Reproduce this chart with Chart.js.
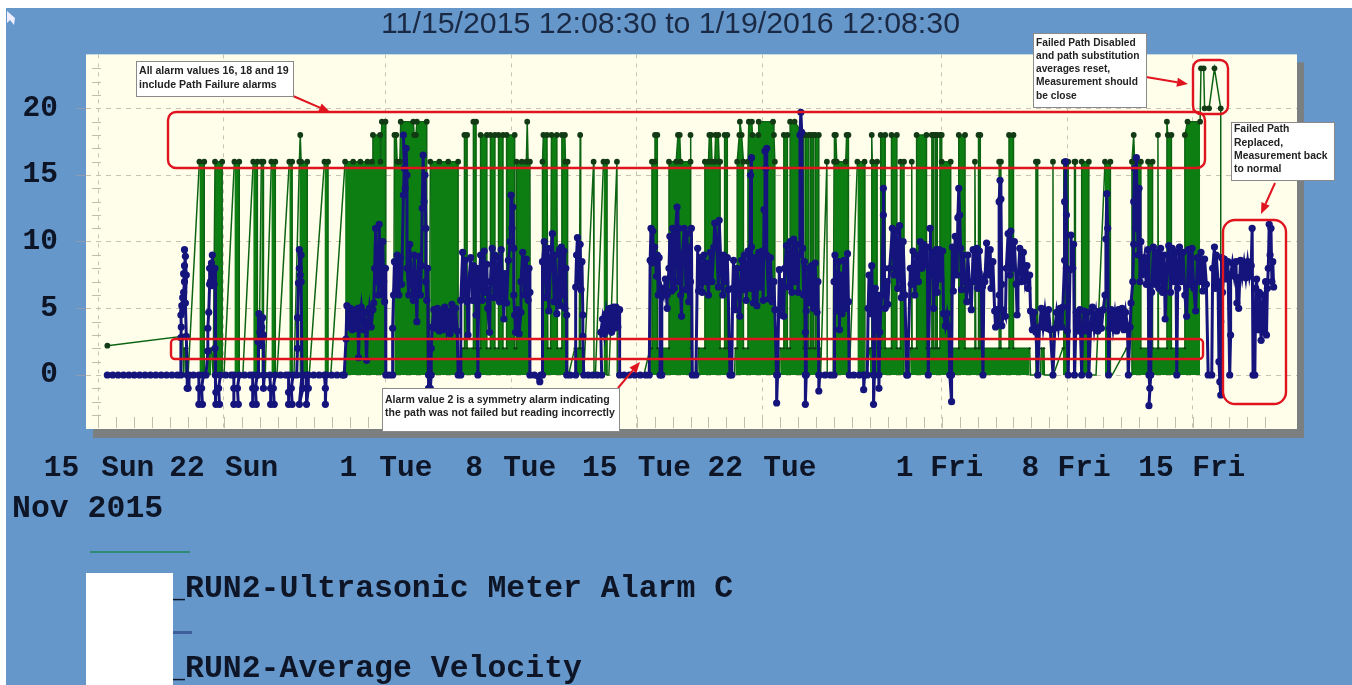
<!DOCTYPE html>
<html><head><meta charset="utf-8">
<style>html,body{margin:0;padding:0;background:#fff}canvas{display:block;filter:blur(0.45px)}</style>
<script src="https://cdn.jsdelivr.net/npm/chart.js@4/dist/chart.umd.min.js"></script>
</head><body><canvas id="c" width="1352" height="685"></canvas>
<script>
const chartTitle = "11/15/2015 12:08:30 to 1/19/2016 12:08:30";
const alarmLabel = "_RUN2-Ultrasonic Meter Alarm C";
const velocityLabel = "_RUN2-Average Velocity";
const axisCaption = "Nov 2015";
const xTickDays = [0,3.7,7,10.6,16,19.2,23,26.1,30,33.6,37,40.6,47,49.9,54,57,61,64.5];
const xTickLabels = ["15","Sun","22","Sun","1","Tue","8","Tue","15","Tue","22","Tue","1","Fri","8","Fri","15","Fri"];
const xGridDays = [0,7,16,23,30,37,47,54,61];
const yTicks = [0,5,10,15,20];

// [days since 15 Nov, alarm value]
const alarmC = [[0.5,2.2],[4.7,2.9],[4.75,0],[4.8,2],[4.95,2],[5,0],[5.63,16],[5.9,16],[5.9,0],[6,0],[6.1,2],[6.3,2],[6.4,0],[6.5,16],[6.9,16],[6.9,0],[7,0],[7.58,16],[7.85,16],[7.85,0],[8.05,0],[8.63,16],[8.86,16],[8.86,0],[8.95,0],[9.08,16],[9.2,16],[9.2,0],[9.3,0],[9.64,16],[9.86,16],[9.86,0],[9.95,0],[10.64,16],[10.8,16],[10.8,0],[10.9,0],[11.2,16],[11.25,18],[11.3,16],[11.64,16],[11.64,0],[11.75,0],[12.6,16],[12.8,16],[12.8,0],[12.95,0],
[13.75,16],[14.2,16],[14.6,16],[15,16],[15.25,16],[15.3,18],[15.7,18],[15.72,16],[15.8,19],[16,19],[16.02,0],[16.45,0],[16.5,18],[16.6,18],[16.65,16],[16.8,16],[16.85,19],[17.55,19],[17.6,18],[17.7,18],[17.75,19],[18.3,19],[18.3,0],[18.45,0],[18.5,16],[19,16],[19.5,16],[20.05,16],[20.05,0],[20.2,0],
[20.25,2],[20.4,2],[20.4,18],[20.55,18],[20.55,2],[20.9,2],[20.9,19],[21.05,19],[21.05,2],[21.3,2],[21.3,18],[21.65,18],[21.65,2],[21.85,2],[21.85,18],[22.1,18],[22.1,2],[22.3,2],[22.3,18],[22.55,18],[22.55,2],[22.75,2],[22.75,18],[23.2,18],[23.2,2],[23.3,2],[23.3,16],[23.6,16],[23.85,16],[23.9,19],[23.95,16],[24.05,16],[24.07,0],
[24.75,0],[24.75,16],[24.8,18],[25,18],[25.05,2],[25.2,2],[25.25,18],[25.55,18],[25.58,2],[25.8,2],[25.83,18],[26,18],[26.03,16],[26.15,16],[26.15,0],[26.2,0],[26.55,2],[26.8,2],[26.85,18],[26.88,2],[27.05,2],[27.05,0],[27.6,16],[27.62,0],[27.7,0],[28.15,16],[28.35,16],[28.35,0],[28.45,0],[28.9,16],[28.92,0],[30.4,0],[30.75,2],[30.85,2],[30.85,16],[31,16],[31.02,18],[31.15,18],[31.15,2],[31.8,2],[31.8,16],[32.2,16],[32.3,18],[32.4,18],[32.45,16],[33,16],[33,18],[33.02,2],[33.07,2],[33.1,0],[33.4,0],
[33.45,2],[33.8,2],[33.8,16],[34,16],[34.05,18],[34.15,18],[34.2,16],[34.35,16],[34.4,18],[34.55,18],[34.6,16],[34.65,16],[34.65,2],[34.9,2],[34.9,18],[35.05,18],[35.05,2],[35.2,2],[35.2,0],[35.45,0],[35.5,2],[35.6,2],[35.6,16],[35.72,18],[35.75,19],[35.85,18],[35.95,16],[35.95,2],[36.2,2],[36.2,16],[36.25,19],[36.42,19],[36.45,18],[36.78,18],[36.8,19],[37.6,19],[37.65,18],[37.7,16],[37.7,0],[37.95,0],[38,2],[38.2,2],[38.2,18],[38.4,18],[38.4,2],[38.55,2],[38.55,19],[38.8,19],[39.3,18],[39.3,2],[39.4,2],[39.4,18],[39.6,18],[39.6,2],[39.7,2],[39.7,18],[39.85,18],[39.85,2],[39.95,2],[39.95,18],[40.15,18],[40.15,2],[40.2,2],[40.2,0],[40.25,0],[40.6,16],[40.62,0],[40.95,0],[41,16],[41.02,18],[41.1,18],[41.15,16],[41.65,16],[41.7,18],[41.8,18],[41.8,0],[41.85,0],[42.3,16],[42.7,16],[42.72,0],[42.8,0],
[43,2],[43.1,2],[43.1,18],[43.13,16],[43.4,16],[43.4,2],[43.6,2],[43.6,18],[43.85,18],[43.85,2],[44.2,2],[44.2,18],[44.5,18],[44.5,2],[44.7,2],[44.7,16],[44.9,16],[44.9,0],[45.2,0],[45.25,2],[45.33,2],[45.33,16],[45.35,2],[45.6,2],[45.6,18],[46.15,18],[46.15,2],[46.45,2],[46.45,18],[46.55,18],[46.55,2],[46.65,2],[46.65,18],[46.75,18],[46.75,2],[46.85,2],[46.9,18],[47,18],[47,16],[47.5,16],[47.5,2],[47.95,2],[47.95,18],[48.3,18],[48.3,2],[48.85,2],[48.85,16],[48.9,2],[49.05,2],[49.05,18],[49.15,18],[49.15,2],[50.2,2],[50.2,16],[50.3,16],[50.3,2],[50.75,2],[50.75,18],[51,18],[51,2],[51.9,2],[51.95,0],
[52.2,0],[52.25,16],[52.35,16],[52.35,0],[52.5,0],[52.55,2],[52.7,2],[52.72,0],[53.15,0],[53.2,16],[53.22,0],[53.75,2],[53.8,2],[53.8,16],[54.05,16],[54.05,0],[54.4,0],[54.4,16],[54.45,16],[54.45,0],[54.8,0],[54.8,16],[55.2,16],[55.2,0],[55.6,0],[56.1,16],[56.4,16],[56.4,0],[56.5,0],[57.3,2],[57.45,2],[57.45,0],[57.6,0],[57.6,16],[57.7,18],[57.75,16],[58.1,16],[58.1,2],[58.5,2],[58.5,16],[58.75,16],[58.75,2],[59.05,2],[59.05,18],[59.08,2],[59.55,2],[59.55,19],[59.6,18],[59.8,18],[59.8,2],[60.55,2],[60.55,18],[60.7,19],[61.4,19],[61.45,23],[61.6,23],[61.65,20],[61.9,20],[62.2,23],[62.55,20],[62.55,0]];

// [days since 15 Nov, velocity]
const averageVelocity = [[0.5,0],[0.8,0],[1.1,0],[1.4,0],[1.7,0],[2,0],[2.3,0],[2.6,0],[2.9,0],[3.2,0],[3.5,0],[3.8,0],[4.1,0],[4.4,0],[4.6,0],[4.6,2.8],[4.62,3.6],[4.6,4.5],[4.65,5.2],[4.7,4.8],[4.7,5.8],[4.75,6.2],[4.8,7],[4.75,7.6],[4.8,8.2],[4.85,8.9],[4.8,9.4],[4.9,7.5],[4.85,5.4],[4.9,2.9],[4.95,0],[4.95,-1],[5,-1],[5.05,0],[5.3,0],[5.6,0],[5.6,-1],[5.6,-2.2],[5.8,-2.2],[5.75,-1],[5.85,0],[6,0],[6.1,1.8],[6.1,3.5],[6.15,4.7],[6.2,6.8],[6.2,8],[6.25,7],[6.3,8.4],[6.35,6.7],[6.35,9],[6.4,7.5],[6.45,6.8],[6.5,8],[6.5,2],[6.52,0],[6.55,-1.3],[6.55,-2.2],[6.75,-2.2],[6.7,-1],[6.8,0],[7.1,0],[7.4,0],[7.55,0],[7.55,-1],[7.55,-2.2],[7.8,-2.2],[7.75,-1],[7.85,0],[8.15,0],[8.45,0],[8.6,0],[8.6,-1],[8.6,-2.2],[8.8,-2.2],[8.75,-1],[8.85,0],[8.9,0],[8.9,2.5],[8.95,4.6],[9,3.2],[9.05,4.2],[9.1,2.2],[9.1,3.6],[9.15,4.3],[9.2,3],[9.2,0],[9.2,-1],[9.25,0],[9.55,0],[9.6,-1],[9.6,-2.2],[9.8,-2.2],[9.75,-1],[9.85,0],[10.15,0],[10.45,0],[10.6,0],[10.6,-1.3],[10.6,-2.2],[10.8,-2.2],[10.75,-1],[10.85,0],[11.05,0],[11.1,2],[11.1,4.3],[11.15,6.9],[11.2,8],[11.2,9.4],[11.25,7.5],[11.3,9],[11.3,7],[11.35,0],[11.2,-2.2],[11.4,-1],[11.4,0],[11.6,0],[11.6,-2.2],[11.7,-1],[11.7,0],[12,0],[12.3,0],[12.6,0],[12.65,-1],[12.65,-2.2],[12.7,0],[13,0],[13.3,0],[13.6,0],
[13.7,0],[13.8,2.7],[13.85,5.2],[13.95,3.6],[14.05,5],[14.15,3.4],[14.25,4.8],[14.35,3.5],[14.45,5],[14.5,1.3],[14.55,4],[14.65,5.1],[14.75,3.4],[14.85,4.7],[14.95,1.1],[15,3.8],[15.1,5],[15.2,3.6],[15.3,4.9],[15.35,5.4],[15.4,8],[15.45,11],[15.5,7],[15.55,9.5],[15.6,6],[15.65,11.3],[15.7,8],[15.8,6],[15.85,10],[15.9,7],[15.95,5.5],[16,8],[16.02,0],[16.2,0],[16.4,0],[16.4,3.5],[16.45,6],[16.5,8.5],[16.6,6.4],[16.65,9],[16.75,6],[16.85,8.8],[16.9,6.8],[17,13.5],[17.05,15.5],[17,18],[17.1,14],[17.15,17],[17.2,15],[17.2,8],[17.3,6],[17.35,9.8],[17.45,7],[17.55,5.6],[17.6,9],[17.7,6.5],[17.75,4],[17.8,7],[17.85,8.9],[17.95,6],[18,8.2],[18.05,12.5],[18.1,16.5],[18.15,13],[18.2,15],[18.25,11],[18.25,7],[18.3,5.6],[18.35,8],[18.4,0],[18.4,-1],[18.5,-1],[18.55,0],[18.55,2],[18.6,3.6],[18.7,4.9],[18.8,3.5],[18.9,5],[19,3.3],[19.1,4.7],[19.2,3.4],[19.3,5.1],[19.4,3.6],[19.5,4.8],[19.6,3.1],[19.7,5.3],[19.8,3.5],[19.9,5],[20,3.3],[20.05,0],[20.2,0],
[20.2,5.6],[20.3,9.2],[20.35,6],[20.45,8.6],[20.55,5.5],[20.6,3],[20.65,7],[20.75,8.8],[20.85,5.6],[20.9,8.2],[21,6],[21.05,4.5],[21.1,8],[21.15,0],[21.2,6.3],[21.3,9],[21.4,5.6],[21.5,9.3],[21.55,6.2],[21.65,8.3],[21.7,5],[21.8,3.2],[21.85,7],[21.95,9.5],[22.05,5.8],[22.1,9],[22.2,6],[22.3,8.8],[22.35,5.5],[22.45,9.4],[22.55,6],[22.6,4.2],[22.65,7.6],[22.75,5.4],[22.85,8.6],[22.95,10],[23,13.5],[23.05,11],[23.1,12.6],[23.15,9.5],[23.15,6],[23.2,4.5],[23.25,3.2],[23.35,4.9],[23.45,3.1],[23.55,4.7],[23.55,7],[23.65,9.2],[23.75,6],[23.85,8.7],[23.95,5.6],[24,8],[24.05,6.2],[24.05,0],[24.3,0],[24.6,-0.5],[24.65,0],[24.75,0],[24.75,8.5],[24.85,10],[24.95,5.8],[25.05,9.5],[25.1,4.8],[25.2,8.5],[25.3,10.6],[25.4,5.5],[25.45,9],[25.55,4.6],[25.65,7.2],[25.7,9.4],[25.75,5.2],[25.8,9.6],[25.85,6],[25.95,9.3],[26,5],[26.05,8],[26.1,4.5],[26.1,0],[26.3,0],[26.6,0],[26.6,6.6],[26.65,9],[26.7,10.3],[26.75,7],[26.85,9.8],[26.9,6.4],[26.95,8.5],[27,4.5],[27,2.9],[27.05,0],[27.3,0],[27.55,0],[27.8,0],[28.05,0],[28,3.2],[28.1,4.2],[28.2,3.1],[28.3,4.6],[28.4,3.4],[28.5,5],[28.6,3.2],[28.7,5.1],[28.75,3.5],[28.85,5.1],[28.95,3.6],[29.05,4.9],[29.05,0],[29.3,0],[29.6,0],[29.9,0],[30.2,0],[30.5,0],[30.7,0],
[30.75,8.6],[30.8,11],[30.85,8.4],[30.9,10.8],[30.95,8.5],[31,9.6],[31.1,7.4],[31.15,9],[31.2,6],[31.25,8.8],[31.3,6.2],[31.3,0],[31.4,0],[31.4,6.5],[31.5,6],[31.6,7.2],[31.7,5],[31.7,6],[31.8,8],[31.85,10.4],[31.95,6.3],[32,11],[32.1,6.5],[32.15,10.4],[32.25,12.6],[32.3,7],[32.35,11],[32.45,6],[32.5,4.4],[32.55,9],[32.65,11],[32.75,6.4],[32.8,10.6],[32.9,5.5],[32.95,9.6],[33,7],[33.05,11],[33.1,0],[33.3,0],[33.4,9.5],[33.45,6.3],[33.55,8.8],[33.65,6.2],[33.75,9],[33.85,7],[33.9,8.4],[34,6],[34.1,9.2],[34.2,7],[34.3,9.6],[34.35,11.4],[34.45,10],[34.55,6.6],[34.6,11.6],[34.7,8],[34.8,6],[34.85,9],[34.95,7],[35.05,8.8],[35.1,6.4],[35.2,0],[35.3,0],[35.35,6.5],[35.4,8.6],[35.5,4.9],[35.6,8],[35.7,6],[35.75,4.4],[35.85,8.6],[35.95,6.4],[36,9],[36.1,5.6],[36.2,9.3],[36.3,6.5],[36.35,15],[36.4,16.3],[36.4,9.6],[36.5,5.4],[36.6,8.8],[36.7,5.2],[36.8,9.2],[36.9,6.6],[37,9.3],[37.05,5.6],[37.1,12.4],[37.15,16.8],[37.2,15.5],[37.25,17],[37.25,9],[37.35,5.7],[37.45,8.8],[37.55,5.5],[37.65,7],[37.7,4.9],[37.8,0],[37.8,-2.1],[37.85,0],[37.95,7.9],[38,4.5],[38.1,7],[38.2,4.4],[38.25,8],[38.35,9.7],[38.45,6.6],[38.55,10],[38.65,6.2],[38.75,10.2],[38.8,7],[38.9,9.8],[39,6.2],[39.05,9],[39.1,18],[39.15,19.7],[39.2,18.2],[39.25,9.5],[39.3,6],[39.35,8.5],[39.4,3.2],[39.4,0],[39.4,-2.2],[39.45,0],[39.45,4.8],[39.55,8],[39.65,5.4],[39.75,8.2],[39.85,5],[39.95,8.4],[40.05,4.7],[40.1,7],[40.15,0],[40.15,-1.2],[40.2,0],[40.5,0],[40.8,0],[41,0],[41,7],[41.05,9],[41.15,4.8],[41.25,8.5],[41.3,3.4],[41.35,7.5],[41.45,4.6],[41.55,8.6],[41.65,5],[41.75,9.1],[41.8,5.5],[41.85,0],[42.1,0],[42.4,0],[42.65,0],[42.65,-1.1],[42.7,0],[42.85,0],[42.9,5],[42.95,7.5],[43.05,4.6],[43.1,8.2],[43.15,5],[43.2,0],[43.2,-2.2],[43.25,0],[43.3,6.5],[43.35,3.4],[43.45,6],[43.5,0],[43.5,-1],[43.55,3.2],[43.65,6],[43.75,12],[43.75,14],[43.8,8],[43.85,5],[43.95,7],[44,5.3],[44.1,8],[44.25,11],[44.35,7.5],[44.45,10.8],[44.55,6.5],[44.65,11.2],[44.75,5.8],[44.85,10],[44.95,6],[45.05,0],[45.1,0],
[45.25,8],[45.3,6.8],[45.4,9.3],[45.5,6],[45.6,9],[45.7,7],[45.8,10],[45.9,8],[46,9.8],[46.1,8.3],[46.2,9.6],[46.25,0],[46.35,8],[46.35,11],[46.4,7.5],[46.5,9.2],[46.55,5],[46.6,7.5],[46.7,9.4],[46.75,6.2],[46.85,9.4],[46.95,7.2],[47.05,9.3],[47.1,4.6],[47.2,3.7],[47.3,4.6],[47.4,3.6],[47.45,0],[47.55,-2],[47.55,0],[47.6,9.6],[47.65,6.3],[47.75,10.4],[47.85,7.5],[47.9,11.8],[47.95,14],[48,12],[48.05,9.5],[48.1,6.4],[48.2,9],[48.3,7],[48.4,5.5],[48.45,9],[48.55,6.8],[48.65,4.9],[48.75,9.4],[48.85,7],[48.95,9.5],[49,6.5],[49.1,9.3],[49.2,7],[49.3,0],[49.35,7.2],[49.4,7],[49.5,9.9],[49.6,7.5],[49.7,9.4],[49.75,6.5],[49.85,8.5],[49.95,4.8],[50,3.6],[50.05,4.9],[50.15,3.8],[50.2,6],[50.2,13],[50.25,14.6],[50.3,13.2],[50.35,6.8],[50.35,3.7],[50.45,4.8],[50.55,4.4],[50.6,8],[50.7,10.6],[50.8,7.5],[50.85,10.8],[50.95,8],[51.05,10],[51.15,6.8],[51.2,4.5],[51.25,7],[51.35,9.5],[51.45,7],[51.55,9.2],[51.65,7.2],[51.75,8.2],[51.8,6.5],[51.9,7.5],[51.95,4.8],[52.05,3.4],[52.15,4.7],[52.25,3.2],[52.35,0],[52.45,3.6],[52.55,5],[52.65,3.6],[52.75,4.8],[52.85,3.5],[52.95,4.9],[53.05,3.4],[53.2,0],[53.3,3.5],[53.4,4.7],[53.5,3.6],[53.6,5],[53.7,3.6],[53.75,5.1],[53.85,8.6],[53.85,13],[53.9,16],[53.95,12],[53.95,8],[54,3.3],[54.05,0],[54.15,7.9],[54.2,10.5],[54.3,8],[54.35,9.8],[54.4,0],[54.5,4.7],[54.6,3.3],[54.7,4.9],[54.8,0],[54.85,3.4],[54.95,4.8],[55.05,3.3],[55.15,4.7],[55.2,0],[55.3,3.6],[55.4,5.1],[55.5,3.5],[55.6,4.6],[55.7,3.3],[55.8,4.8],[55.9,3.5],[56,4.9],[56.1,6],[56.15,10.2],[56.2,13.6],[56.25,11],[56.3,0],[56.35,3.5],[56.45,4.9],[56.55,3.5],[56.65,4.6],[56.75,3.3],[56.85,4.9],[56.95,3.6],[57.05,5],[57.15,3.4],[57.25,4.7],[57.35,3.7],[57.4,0],[57.5,3.6],[57.55,5.4],
[57.65,7],[57.7,9.8],[57.7,13],[57.75,15.5],[57.8,11],[57.85,16.3],[57.9,12],[57.95,9],[58,14],[58.05,7],[58.1,10],[58.15,7.5],[58.3,8.8],[58.4,6.8],[58.5,9.4],[58.55,0],[58.6,-1],[58.55,-2.3],[58.65,0],[58.7,6.2],[58.8,9.6],[58.9,6.8],[59,9.2],[59.1,6.5],[59.2,9.5],[59.3,6.2],[59.4,9],[59.45,4.2],[59.55,8],[59.65,9.7],[59.75,6.2],[59.85,9.5],[59.95,7],[60.05,9.2],[60.1,0],[60.15,6.5],[60.25,9.6],[60.35,7],[60.45,9.2],[60.55,6],[60.65,4.4],[60.75,9.4],[60.85,6.8],[60.95,9.5],[61.05,6.5],[61.15,4.8],[61.25,8.8],[61.35,7],[61.45,9.2],[61.55,6.3],[61.65,8.7],[61.75,6.8],[61.85,0],[62.05,0],[62.1,8],[62.2,9.6],[62.25,6.5],[62.3,9],[62.4,7],[62.45,1],[62.5,-0.5],[62.55,-1.5],[62.55,4],[62.6,8.8],[62.65,6.2],[62.75,8.7],[62.85,7.2],[62.95,8.5],[63.05,0],[63.1,3],[63.1,7.5],[63.2,8.4],[63.3,7.4],[63.4,8.5],[63.45,5.4],[63.55,7.3],[63.55,5],[63.65,8.6],[63.75,7.4],[63.85,8.4],[63.95,7.3],[64.05,8.5],[64.15,7.4],[64.25,8.2],[64.3,11],[64.35,0],[64.45,0],[64.5,6.5],[64.55,7.2],[64.65,3.4],[64.7,6.2],[64.8,2.6],[64.9,6],[65,3.2],[65.05,7],[65.1,3],[65.15,6.5],[65.2,8],[65.25,11.3],[65.3,9],[65.35,11],[65.4,7],[65.45,8.5],[65.5,6.6]];

const redFrames = [[168,112,1037,56,8],[171,339,1032,20,4],[1193,60,35,54,8],[1223,220,63,184,12]];
const callouts = [
 {box:[136,61,157,35],lh:13.5,y:71.5,x:139,size:10.6,lines:["All alarm values 16, 18 and 19","include Path Failure alarms"]},
 {box:[382,388,237,43],lh:13,y:400,x:385,size:10.5,lines:["Alarm value 2 is a symmetry alarm indicating","the path was not failed but reading incorrectly"]},
 {box:[1033,33,113,74],lh:13.2,y:43,x:1036,size:10.2,lines:["Failed Path Disabled","and path substitution","averages reset,","Measurement should","be close"]},
 {box:[1231,122,103,58],lh:13.3,y:129.5,x:1234,size:10.4,lines:["Failed Path","Replaced,","Measurement back","to normal"]}
];
const arrows = [[293,96,330,112],[618,388,640,362],[1146,77,1188,84],[1275,183,1261,214]];

function roundRect(c,x,y,w,h,r){c.beginPath();c.roundRect(x,y,w,h,r);}
function arrow(c,x1,y1,x2,y2){
  const a=Math.atan2(y2-y1,x2-x1),L=11,W=4.5;
  c.strokeStyle=c.fillStyle="#e0141e";c.lineWidth=2;
  c.beginPath();c.moveTo(x1,y1);c.lineTo(x2-L*Math.cos(a),y2-L*Math.sin(a));c.stroke();
  c.beginPath();c.moveTo(x2,y2);
  c.lineTo(x2-L*Math.cos(a)+W*Math.sin(a),y2-L*Math.sin(a)-W*Math.cos(a));
  c.lineTo(x2-L*Math.cos(a)-W*Math.sin(a),y2-L*Math.sin(a)+W*Math.cos(a));
  c.closePath();c.fill();
}
const backdrop = {
  id:'backdrop',
  afterLayout(chart){ if(chart.titleBlock){chart.titleBlock.left+=22;chart.titleBlock.right+=22;} },
  beforeDraw(chart){
    const c=chart.ctx,a=chart.chartArea;
    c.save();
    c.fillStyle="#fff";c.fillRect(0,0,1352,685);
    c.fillStyle="#6697cb";c.fillRect(6,8,1346,677);
    c.fillStyle="#7b7f80";c.fillRect(a.left+7,a.top+8,a.right-a.left,a.bottom-a.top+1);
    c.fillStyle="#fffeeb";c.fillRect(a.left,a.top,a.right-a.left,a.bottom-a.top);
    c.fillStyle="#eef";c.beginPath();c.moveTo(7,11);c.lineTo(7,23);c.lineTo(10,20);c.lineTo(14,25);c.lineTo(15,18);c.closePath();c.fill();
    c.restore();
  },
  beforeDatasetsDraw(chart){
    const c=chart.ctx,x=chart.scales.x,y=chart.scales.y,a=chart.chartArea;
    c.save();c.strokeStyle="#c0c0a8";c.lineWidth=1;
    c.beginPath();
    for(let d=0;d<=65;d++){const p=Math.round(x.getPixelForValue(d))+.5;c.moveTo(p,a.bottom-12);c.lineTo(p,a.bottom-1);}
    for(let v=-3;v<=23;v++){if(v%5===0)continue;const p=Math.round(y.getPixelForValue(v))+.5;c.moveTo(a.left+6,p);c.lineTo(a.left+15,p);}
    c.stroke();c.restore();
  },
  afterDraw(chart){
    const c=chart.ctx;
    c.save();
    for(const f of redFrames){c.strokeStyle="#e0141e";c.lineWidth=2.4;roundRect(c,f[0],f[1],f[2],f[3],f[4]);c.stroke();}
    for(const a of arrows)arrow(c,a[0],a[1],a[2],a[3]);
    c.textBaseline="middle";c.textAlign="left";
    for(const t of callouts){
      const b=t.box;
      c.fillStyle="#fff";c.fillRect(b[0],b[1],b[2],b[3]);
      c.strokeStyle="#8a8a8a";c.lineWidth=1;c.strokeRect(b[0]+.5,b[1]+.5,b[2],b[3]);
      c.fillStyle="#222";c.font="bold "+t.size+"px 'Liberation Sans'";
      t.lines.forEach((s,i)=>c.fillText(s,t.x,t.y+i*t.lh));
    }
    // caption and legend
    c.textBaseline="alphabetic";c.fillStyle="#0d1526";c.font="bold 31.5px 'Liberation Mono'";
    c.fillText(axisCaption,12,517);
    const ds=chart.data.datasets;
    c.fillText(ds[1].label,166.1,597);
    c.fillText(ds[0].label,166.1,677);
    c.fillStyle="#2f8a78";c.fillRect(90,551,100,2);
    c.fillStyle="#3f5f9c";c.fillRect(171,631,21,3);
    c.fillStyle="#fff";c.fillRect(86,573,87,112);
    c.restore();
  }
};
new Chart(document.getElementById('c'),{
  type:'line',
  data:{datasets:[
    {label:velocityLabel,data:averageVelocity,order:0,borderColor:"#14147c",borderWidth:3,backgroundColor:"#14147c",
     pointRadius:3.6,pointBorderWidth:0,pointBackgroundColor:"#14147c",tension:0,fill:false},
    {label:alarmLabel,data:alarmC,order:1,borderColor:"#0c6412",borderWidth:1.5,backgroundColor:"#0d7f12",
     pointRadius:ctx=>{const v=ctx.parsed.y;return v<=0?0:(v===2?1.2:2.9);},pointBorderWidth:0,pointBackgroundColor:"#123a14",tension:0,
     fill:{value:0},
     segment:{backgroundColor:ctx=>{const a=ctx.p0.parsed,b=ctx.p1.parsed;
       return (a.y>0&&b.y>0&&a.y<=19&&b.y<=19&&b.x-a.x<3)?"#0d7f12":"rgba(0,0,0,0)";}}}
  ]},
  options:{
    responsive:false,animation:false,devicePixelRatio:1,
    layout:{padding:{right:55}},
    plugins:{
      legend:{display:false},tooltip:{enabled:false},
      title:{display:true,text:chartTitle,color:"#1b2a44",font:{family:"'Liberation Sans'",size:30.3,weight:'normal'},padding:{top:6,bottom:12}}
    },
    scales:{
      x:{type:'linear',min:-0.69,max:66.8,
        afterBuildTicks(s){s.ticks=xTickDays.map(v=>({value:v}));},
        afterFit(s){s.height=256;},
        ticks:{autoSkip:false,maxRotation:0,minRotation:0,labelOffset:-37,padding:22,color:"#0d1526",
          font:{family:"'Liberation Mono'",size:29.5,weight:'bold'},
          callback:v=>xTickLabels[xTickDays.indexOf(v)]},
        border:{display:false,dash:[4,5]},
        grid:{drawTicks:false,lineWidth:1,color:c=>(c.tick&&xGridDays.includes(c.tick.value))?"#c4c4b0":"rgba(0,0,0,0)"}},
      y:{type:'linear',min:-4.05,max:24.05,
        afterBuildTicks(s){s.ticks=yTicks.map(v=>({value:v}));},
        afterFit(s){s.width=86;},
        ticks:{padding:18,color:"#0d1526",font:{family:"'Liberation Mono'",size:29.5,weight:'bold'}},
        border:{display:false,dash:[5,5]},
        grid:{lineWidth:1,color:"#c4c4b0",tickLength:10,tickColor:"#8f9bb0",tickBorderDash:[]}}
    }
  },
  plugins:[backdrop]
});
</script></body></html>
